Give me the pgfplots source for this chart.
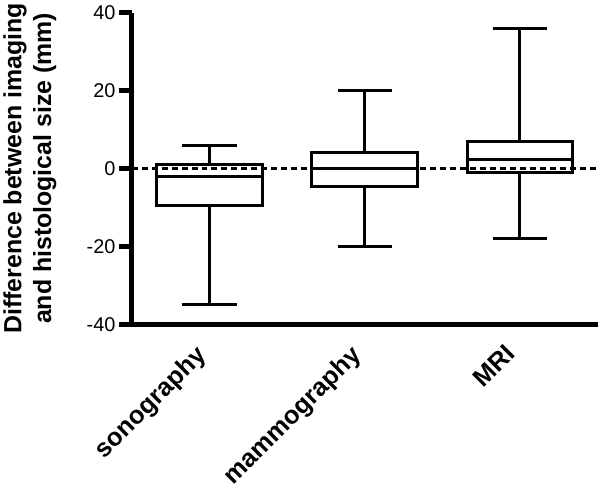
\documentclass[border=0pt]{standalone}
\usepackage{fontspec}
\setmainfont{Liberation Sans}
\usepackage{pgfplots}
\pgfplotsset{compat=1.18}

\begin{document}
\begin{tikzpicture}
\begin{axis}[
    scale only axis,
    width=468pt, height=313pt,
    xmin=0.5, xmax=3.5,
    ymin=-40, ymax=40,
    axis x line*=bottom,
    axis y line*=left,
    axis line style={line width=5pt},
    ytick={-40,-20,0,20,40},
    tick align=outside,
    ytick style={line width=5pt, black},
    major tick length=13pt,
    xtick={1,2,3},
    xticklabels={sonography,mammography,MRI},
    xtick style={draw=none},
    xticklabel style={rotate=45, anchor=north east, font=\fontsize{25.5}{29}\selectfont\bfseries,
        xshift=-12pt, yshift=10pt},
    yticklabel style={font=\fontsize{20}{24}\selectfont},
    /pgf/number format/assume math mode=true,
    ylabel={Difference between imaging\\and histological size (mm)},
    ylabel style={at={(axis description cs:-0.219,0.5)}, anchor=center, align=center,
        font=\fontsize{25}{30}\selectfont\bfseries},
    unbounded coords=jump,
    clip=false,
    bx/.style={black, solid, mark=none, line width=3pt, line join=miter},
]

% zero reference line
\addplot[black, mark=none, line width=2.4pt, dash pattern=on 6pt off 4pt] coordinates {(0.5,0) (3.5,0)};

% sonography: whiskers -35 / 6, quartiles -9.5 / 1, median -2
\addplot[bx] coordinates {(0.66,-9.5) (1.34,-9.5) (1.34,1) (0.66,1) (0.66,-9.5) (1.34,-9.5)};
\addplot[bx] coordinates {(0.66,-2) (1.34,-2) (nan,nan)
    (1,1) (1,6) (nan,nan) (0.825,6) (1.175,6) (nan,nan)
    (1,-9.5) (1,-35) (nan,nan) (0.825,-35) (1.175,-35)};

% mammography: whiskers -20 / 20, quartiles -4.5 / 4, median 0
\addplot[bx] coordinates {(1.66,-4.5) (2.34,-4.5) (2.34,4) (1.66,4) (1.66,-4.5) (2.34,-4.5)};
\addplot[bx] coordinates {(1.66,0) (2.34,0) (nan,nan)
    (2,4) (2,20) (nan,nan) (1.825,20) (2.175,20) (nan,nan)
    (2,-4.5) (2,-20) (nan,nan) (1.825,-20) (2.175,-20)};

% MRI: whiskers -18 / 36, quartiles -1 / 7, median 2.2
\addplot[bx] coordinates {(2.66,-1) (3.34,-1) (3.34,7) (2.66,7) (2.66,-1) (3.34,-1)};
\addplot[bx] coordinates {(2.66,2.2) (3.34,2.2) (nan,nan)
    (3,7) (3,36) (nan,nan) (2.825,36) (3.175,36) (nan,nan)
    (3,-1) (3,-18) (nan,nan) (2.825,-18) (3.175,-18)};

\end{axis}
\end{tikzpicture}
\end{document}
